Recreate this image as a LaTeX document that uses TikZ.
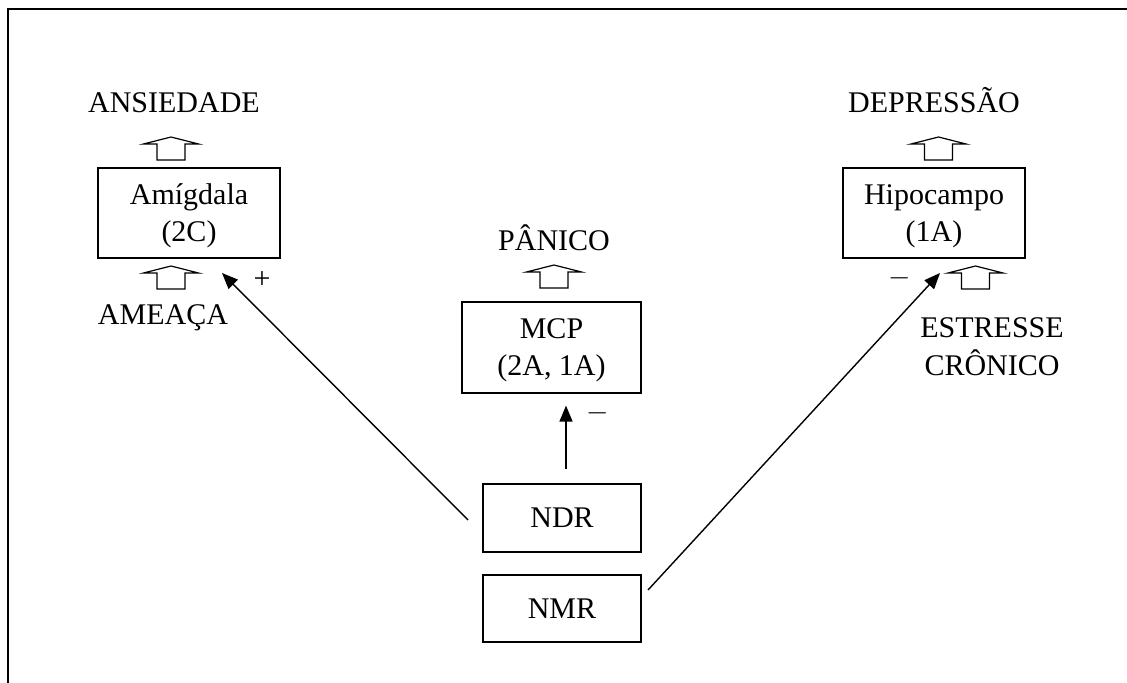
\documentclass[tikz,border=0pt]{standalone}
\usepackage{fontspec}
\setmainfont{Liberation Serif}
\usetikzlibrary{arrows.meta}

\begin{document}
\begin{tikzpicture}[x=0.5pt, y=-0.5pt, font=\fontsize{15}{18.5}\selectfont,
    box/.style={draw, line width=0.6pt, align=center, inner sep=0pt},
    twoline/.style={box, text depth=0pt},
    label/.style={anchor=base, align=center, inner sep=0pt},
    conn/.style={line width=0.7pt, -{Triangle[length=8pt, width=6.5pt]}},
    hollow/.pic={\draw[line width=0.6pt] (-14,0) -- (-14,-16) -- (-27.5,-16) -- (0,-23) -- (27.5,-16) -- (14,-16) -- (14,0) -- cycle;}]

        \useasboundingbox (0,0) rectangle (1127,683);
        \draw[line width=1pt] (8,683) -- (8,9) -- (1127,9);

        % Boxes
        \node[twoline, minimum width=91pt, minimum height=45pt] (amig) at (189,213) {Amígdala\\(2C)};
        \node[twoline, minimum width=91pt, minimum height=45pt] (hipo) at (934,213) {Hipocampo\\(1A)};
        \node[twoline, minimum width=89.5pt, minimum height=45.5pt] (mcp) at (551.5,347.5) {MCP\\(2A, 1A)};
        \node[box, minimum width=79pt, minimum height=34pt] (ndr) at (562,518) {NDR};
        \node[box, minimum width=79pt, minimum height=33.5pt] (nmr) at (562,608.5) {NMR};

        % Texts
        \node[label] (ans) at (174,113) {ANSIEDADE};
        \node[label] (dep) at (934,113) {DEPRESSÃO};
        \node[label] (pan) at (554,251) {PÂNICO};
        \node[label] (ame) at (163,325) {AMEAÇA};
        \node[label] (est) at (992,375) {ESTRESSE\\CRÔNICO};
        \node (plus) at (262,280) {+};
        \node (minhipo) at (900,278) {$-$};
        \node (minmcp) at (598,413) {$-$};

        % Hollow arrows
        \pic (upans) at (171,160) {hollow};
        \pic (upame) at (171,289) {hollow};
        \pic (updep) at (938.5,160) {hollow};
        \pic (upest) at (975.5,289) {hollow};
        \pic (uppan) at (554,288) {hollow};

        % Edges
        \coordinate (ndrout) at (468,520);
        \coordinate (amigin) at (222,273);
        \coordinate (nmrout) at (648,590);
        \coordinate (hipoin) at (940,273);
        \draw[conn] (ndrout) -- (amigin);
        \draw[conn] (nmrout) -- (hipoin);
        \draw[conn, shorten <=7pt, shorten >=6pt] ([xshift=2pt]ndr.north) -- ([xshift=2pt]ndr.north |- mcp.south);
    \end{tikzpicture}
\end{document}
